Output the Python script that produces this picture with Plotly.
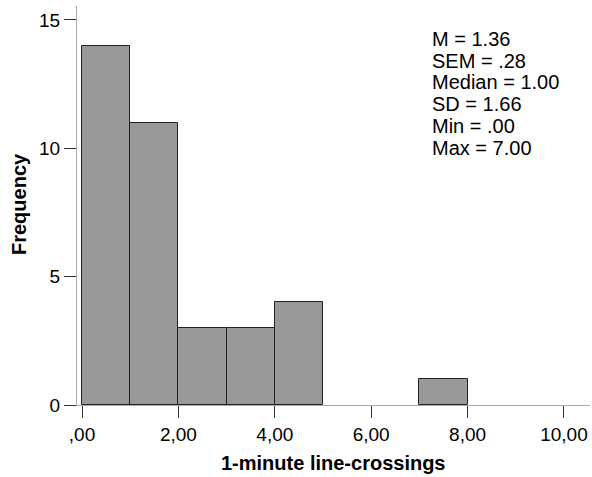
import plotly.graph_objects as go

bin_starts = [0, 1, 2, 3, 4, 7]
counts = [14, 11, 3, 3, 4, 1]
bin_width = 1
x_ticks = [0, 2, 4, 6, 8, 10]
x_tick_text = [",00", "2,00", "4,00", "6,00", "8,00", "10,00"]
y_ticks = [0, 5, 10, 15]
stats_lines = ["M = 1.36", "SEM = .28", "Median = 1.00", "SD = 1.66", "Min = .00", "Max = 7.00"]

W, H = 592, 477
L, R, T, B = 77, 2, 6, 72
ph = H - T - B

fig = go.Figure()
fig.add_trace(go.Bar(
    x=[s + bin_width / 2 for s in bin_starts],
    y=counts,
    width=[bin_width] * len(counts),
    marker=dict(color="#999999", line=dict(color="#222222", width=1)),
    hoverinfo="x+y",
))

font = "Arial, Liberation Sans, sans-serif"
fig.update_layout(
    width=W, height=H,
    margin=dict(l=L, r=R, t=T, b=B),
    plot_bgcolor="white", paper_bgcolor="white",
    showlegend=False,
    bargap=0,
    xaxis=dict(
        range=[-0.104, 10.54],
        tickvals=x_ticks, ticktext=x_tick_text,
        ticks="outside", ticklen=12, tickcolor="#333333", tickwidth=1,
        showline=True, linecolor="#aaaaaa", linewidth=1,
        showgrid=False, zeroline=False,
        tickfont=dict(family=font, size=19, color="black"),
    ),
    yaxis=dict(
        range=[0, 15.54],
        tickvals=y_ticks,
        ticks="outside", ticklen=12, tickcolor="#333333", tickwidth=1,
        showline=True, linecolor="#aaaaaa", linewidth=1,
        showgrid=False, zeroline=False,
        tickfont=dict(family=font, size=19, color="black"),
    ),
)

annotations = []
annotations.append(dict(
    text="<b>1-minute line-crossings</b>", xref="paper", yref="paper",
    x=0.5, y=-(463 - (T + ph)) / ph, xanchor="center", yanchor="middle",
    showarrow=False, font=dict(family=font, size=20, color="black"),
))
annotations.append(dict(
    text="<b>Frequency</b>", xref="paper", yref="paper",
    x=-(L - 19) / (W - L - R), y=0.5 - (204 - (T + ph / 2)) / ph,
    xanchor="center", yanchor="middle", textangle=-90,
    showarrow=False, font=dict(family=font, size=20, color="black"),
))
pw = W - L - R
for i, line in enumerate(stats_lines):
    ypix = 39 + i * 21.7
    annotations.append(dict(
        text=line, xref="paper", yref="paper",
        x=(430 - L) / pw, y=1 - (ypix - T) / ph,
        xanchor="left", yanchor="middle",
        showarrow=False, font=dict(family=font, size=20, color="black"),
    ))
fig.update_layout(annotations=annotations)

fig.write_html("out.html")
